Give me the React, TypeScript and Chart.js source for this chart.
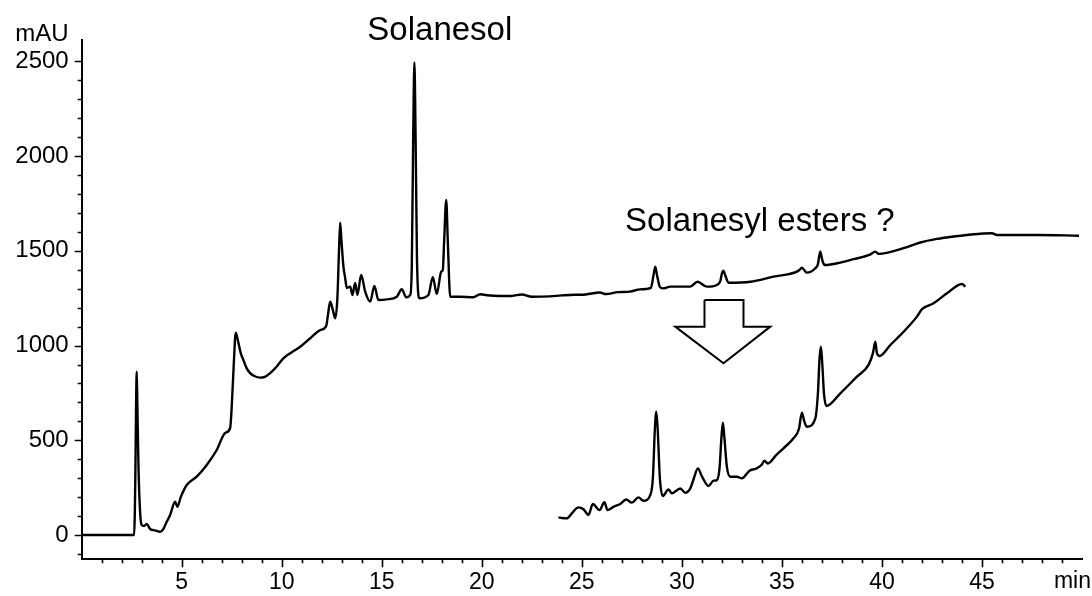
import React, { useEffect, useRef } from 'react';
import { Chart, registerables } from 'chart.js';

Chart.register(...registerables);

const FONT = '"Liberation Sans", Arial, Helvetica, sans-serif';

// Main chromatogram (retention time in min, absorbance in mAU)
const mainTime = [
  0, 2.62, 2.68, 2.72, 2.75, 2.78, 2.84, 2.92, 3.0, 3.12, 3.25, 3.42, 3.65, 3.92, 4.08, 4.25, 4.42, 4.67, 4.78, 4.95,
  5.25, 5.75, 6.25, 6.75, 7.17, 7.42, 7.5, 7.6, 7.7, 7.8, 7.95, 8.08, 8.25, 8.42, 8.65, 8.92, 9.15, 9.42, 9.75, 10.08,
  10.5, 10.92, 11.42, 11.92, 12.22, 12.32, 12.42, 12.55, 12.67, 12.78, 12.86, 12.92, 12.98, 13.08, 13.17, 13.25, 13.42,
  13.53, 13.67, 13.78, 13.97, 14.17, 14.42, 14.63, 14.83, 15.25, 15.75, 16.0, 16.22, 16.42, 16.5, 16.57, 16.63, 16.69,
  16.76, 16.88, 17.33, 17.55, 17.75, 17.97, 18.05, 18.12, 18.22, 18.3, 18.42, 18.92, 19.57, 19.92, 20.25, 20.92, 21.5,
  22.0, 22.5, 23.4, 24.0, 24.6, 25.2, 25.9, 26.2, 26.8, 27.4, 27.92, 28.45, 28.58, 28.67, 28.76, 28.9, 29.05, 29.42,
  30.42, 30.78, 31.25, 31.75, 31.92, 32.0, 32.08, 32.17, 32.33, 33.42, 34.58, 35.75, 35.88, 36.0, 36.12, 36.25, 36.67,
  36.8, 36.87, 36.92, 36.98, 37.05, 37.17, 37.92, 38.58, 39.4, 39.67, 39.83, 41.08, 41.92, 42.75, 43.58, 44.25, 45.5,
  45.75, 47.75, 49.85,
];
const mainSignal = [
  0, 0, 300, 700, 862, 700, 350, 120, 53, 48, 58, 32, 25, 17, 32, 70, 106, 176, 149, 200,
  264, 308, 370, 449, 539, 565, 680, 900, 1068, 1030, 960, 924, 880, 855, 838, 831, 835, 855, 890, 933,
  965, 994, 1039, 1082, 1103, 1170, 1232, 1190, 1144, 1250, 1500, 1649, 1560, 1420, 1357, 1304, 1311,
  1267, 1331, 1267, 1373, 1285, 1232, 1315, 1241, 1244, 1258, 1297, 1255, 1267, 1420, 2100, 2494, 2100,
  1450, 1250, 1267, 1361, 1272, 1390, 1399, 1560, 1769, 1550, 1258, 1258, 1255, 1271, 1266, 1262, 1262,
  1270, 1258, 1260, 1265, 1268, 1270, 1280, 1272, 1282, 1285, 1297, 1305, 1370, 1417, 1370, 1310, 1302, 1311,
  1311, 1337, 1311, 1320, 1340, 1380, 1395, 1370, 1332, 1337, 1364, 1390, 1400, 1411, 1398, 1385, 1408,
  1430, 1475, 1496, 1470, 1440, 1425, 1438, 1456, 1480, 1496, 1484, 1514, 1544, 1563, 1576, 1584, 1593,
  1584, 1584, 1580,
];

// Enlarged segment of the chromatogram (24 - 44 min)
const insetTime = [
  23.83, 24.0, 24.25, 24.5, 24.83, 25.08, 25.33, 25.55, 25.88, 26.13, 26.28, 26.58, 26.92, 27.22, 27.5, 27.83, 28.08,
  28.42, 28.55, 28.65, 28.72, 28.79, 28.9, 29.05, 29.33, 29.5, 29.92, 30.17, 30.42, 30.6, 30.8, 31.0, 31.33, 31.58,
  31.75, 31.88, 31.98, 32.05, 32.12, 32.25, 32.42, 32.75, 33.0, 33.38, 33.7, 34.0, 34.12, 34.3, 34.7, 35.08, 35.58,
  35.85, 36.0, 36.12, 36.25, 36.67, 36.8, 36.88, 36.95, 37.02, 37.1, 37.22, 37.92, 38.75, 39.33, 39.55, 39.67, 39.75,
  39.88, 40.42, 41.08, 41.75, 42.0, 42.58, 43.25, 44.0, 44.17,
];
const insetSignal = [
  93, 90, 88, 115, 146, 136, 106, 164, 132, 173, 132, 149, 164, 188, 171, 199, 181,
  211, 300, 560, 651, 560, 300, 206, 241, 220, 246, 223, 246, 300, 352, 310, 259, 287,
  290, 350, 520, 593, 520, 360, 308, 308, 299, 340, 350, 372, 392, 378, 420, 458, 511,
  560, 646, 600, 572, 616, 750, 930, 994, 900, 750, 681, 748, 836, 898, 960, 1021, 960,
  945, 1003, 1073, 1153, 1192, 1223, 1276, 1325, 1311,
];

// Outline of the down arrow (min, mAU)
const arrowTime = [31.13, 33.08, 33.08, 34.42, 32.08, 29.67, 31.13, 31.13];
const arrowSignal = [1241, 1241, 1100, 1100, 907, 1100, 1100, 1241];

// Axes
const xMin = 0;
const xMax = 50;
const yMin = -128;
const yMax = 2613;
const xTickValues = [5, 10, 15, 20, 25, 30, 35, 40, 45];
const yTickValues = [0, 500, 1000, 1500, 2000, 2500];
const xMinorTicks = Array.from({ length: 49 }, (_, i) => i + 1);
const yMinorTicks = Array.from({ length: 27 }, (_, i) => -100 + i * 100);
const xUnitLabel = 'min';
const yUnitLabel = 'mAU';

// Text labels placed in data coordinates
const labelTexts = ['Solanesol', 'Solanesyl esters ?'];
const labelTimes = [17.9, 33.9];
const labelSignals = [2660, 1652];

const toPoints = (xs: number[], ys: number[]) => xs.map((x, i) => ({ x, y: ys[i] }));

const decorPlugin = {
  id: 'decor',
  afterDraw(chart: any) {
    const { ctx, chartArea, scales } = chart;
    const x = scales.x;
    const y = scales.y;
    ctx.save();
    ctx.strokeStyle = '#000';
    ctx.lineWidth = 1.6;
    ctx.beginPath();
    xMinorTicks.forEach((v) => {
      const px = Math.round(x.getPixelForValue(v)) + 0.5;
      const len = v % 5 === 0 ? 8 : 4;
      ctx.moveTo(px, chartArea.bottom);
      ctx.lineTo(px, chartArea.bottom + len);
    });
    yMinorTicks.forEach((v) => {
      const py = Math.round(y.getPixelForValue(v)) + 0.5;
      const len = v % 500 === 0 ? 7 : 4;
      ctx.moveTo(chartArea.left - len, py);
      ctx.lineTo(chartArea.left, py);
    });
    ctx.stroke();

    ctx.fillStyle = '#000';
    ctx.font = `23px ${FONT}`;
    ctx.textAlign = 'right';
    ctx.textBaseline = 'middle';
    ctx.fillText(xUnitLabel, 1091, chartArea.bottom + 22);
    ctx.font = `24px ${FONT}`;
    ctx.fillText(yUnitLabel, chartArea.left - 13, y.getPixelForValue(yTickValues[yTickValues.length - 1]) - 27);

    ctx.font = `33px ${FONT}`;
    ctx.textAlign = 'center';
    labelTexts.forEach((t, i) => {
      ctx.fillText(t, x.getPixelForValue(labelTimes[i]), y.getPixelForValue(labelSignals[i]));
    });
    ctx.restore();
  },
};

export default function App() {
  const canvasRef = useRef<HTMLCanvasElement | null>(null);

  useEffect(() => {
    const canvas = canvasRef.current;
    if (!canvas) return;
    const lineStyle = {
      borderColor: '#000',
      borderWidth: 2.4,
      pointRadius: 0,
      fill: false,
    };
    const chart = new Chart(canvas, {
      type: 'line',
      data: {
        datasets: [
          { ...lineStyle, data: toPoints(mainTime, mainSignal), cubicInterpolationMode: 'monotone' },
          { ...lineStyle, data: toPoints(insetTime, insetSignal), cubicInterpolationMode: 'monotone' },
          { ...lineStyle, borderWidth: 2, data: toPoints(arrowTime, arrowSignal), tension: 0 },
        ],
      } as any,
      options: {
        responsive: false,
        animation: false,
        devicePixelRatio: 1,
        layout: { padding: { top: 40, right: 10, left: 0, bottom: 0 } },
        plugins: { legend: { display: false }, tooltip: { enabled: false } },
        scales: {
          x: {
            type: 'linear',
            min: xMin,
            max: xMax,
            afterBuildTicks: (scale: any) => {
              scale.ticks = xTickValues.map((v) => ({ value: v }));
            },
            afterFit: (scale: any) => {
              scale.height = 36.7;
            },
            grid: { display: false, drawTicks: true, tickLength: 8 },
            border: { display: true, color: '#000', width: 2 },
            ticks: {
              color: '#000',
              padding: 2,
              maxRotation: 0,
              autoSkip: false,
              font: { family: FONT, size: 23 },
              callback: (v: any) => String(v),
            },
          },
          y: {
            type: 'linear',
            min: yMin,
            max: yMax,
            afterBuildTicks: (scale: any) => {
              scale.ticks = yTickValues.map((v) => ({ value: v }));
            },
            afterFit: (scale: any) => {
              scale.width = 81.7;
            },
            grid: { display: false, drawTicks: true, tickLength: 8 },
            border: { display: true, color: '#000', width: 2 },
            ticks: {
              color: '#000',
              padding: 5,
              autoSkip: false,
              font: { family: FONT, size: 24 },
              callback: (v: any) => String(v),
            },
          },
        },
      } as any,
      plugins: [decorPlugin],
    });
    return () => chart.destroy();
  }, []);

  return (
    <div style={{ position: 'absolute', left: 0, top: 0, width: 1092, height: 596, background: '#fff' }}>
      <canvas ref={canvasRef} width={1092} height={596} style={{ display: 'block' }} />
    </div>
  );
}
